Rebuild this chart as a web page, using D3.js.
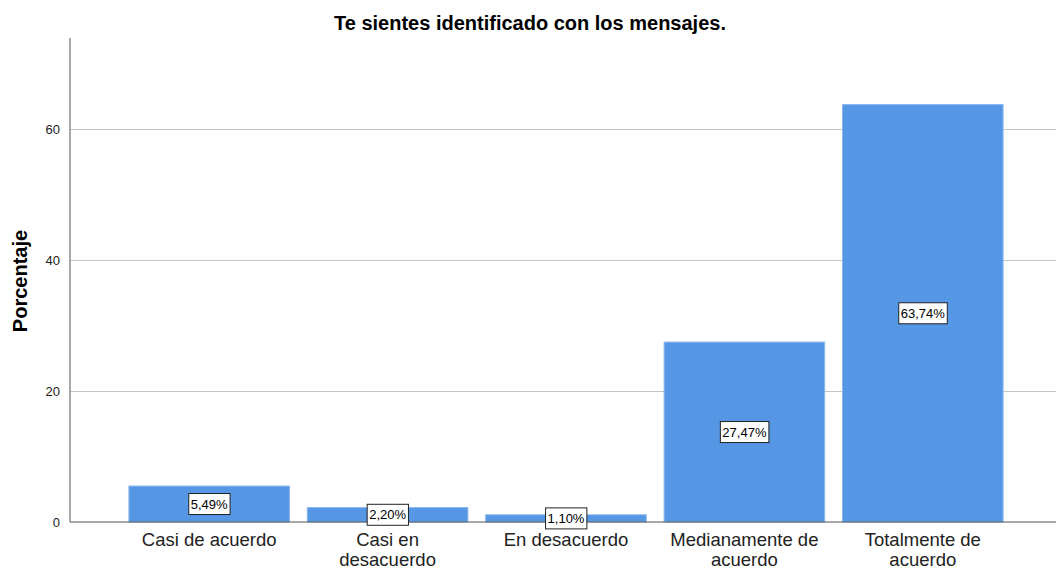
<!DOCTYPE html>
<html><head><meta charset="utf-8">
<script src="https://cdn.jsdelivr.net/npm/d3@7"></script>
<style>body{margin:0;background:#fff}svg{display:block}text{font-family:Arial,"Liberation Sans",sans-serif}</style>
</head><body>
<svg id="c" width="1056" height="571"></svg>
<script>
const categories = [["Casi de acuerdo"],["Casi en","desacuerdo"],["En desacuerdo"],["Medianamente de","acuerdo"],["Totalmente de","acuerdo"]];
const values = [5.49, 2.20, 1.10, 27.47, 63.74];
const labels = ["5,49%","2,20%","1,10%","27,47%","63,74%"];
const yTicks = [0, 20, 40, 60];
const title = "Te sientes identificado con los mensajes.";
const yTitle = "Porcentaje";

const svg = d3.select("#c");
const x0 = 70, x1 = 1056, yTop = 38, yBase = 522;
const keys = categories.map(c => c.join(" "));
const x = d3.scaleBand().domain(keys).range([120, 1012]).paddingInner(0.1).paddingOuter(0.05);
const y = d3.scaleLinear().domain([0, 73.9]).range([yBase, yTop]);

// gridlines
svg.append("g").selectAll("line").data(yTicks.filter(t => t > 0)).join("line")
  .attr("x1", x0).attr("x2", x1).attr("y1", d => y(d)).attr("y2", d => y(d))
  .attr("stroke", "#c4c4c4").attr("stroke-width", 1).attr("shape-rendering","crispEdges");

// y axis
const ya = svg.append("g").attr("transform", `translate(${x0},0)`).call(d3.axisLeft(y).tickValues(yTicks).tickSize(0).tickPadding(10));
ya.select(".domain").remove();
ya.selectAll("text").attr("font-size", 13).attr("fill", "#222").attr("font-family","Arial");
svg.append("line").attr("x1", x0).attr("x2", x0).attr("y1", yTop).attr("y2", yBase)
  .attr("stroke", "#8c8c8c").attr("stroke-width", 1.5);

// bars
svg.append("g").selectAll("rect").data(values).join("rect")
  .attr("x", (d, i) => x(keys[i])).attr("width", x.bandwidth())
  .attr("y", d => y(d)).attr("height", d => yBase - y(d))
  .attr("fill", "#5596E5").attr("stroke", "#8ab6ee").attr("stroke-width", 1);

// x axis line
svg.append("line").attr("x1", x0).attr("x2", x1).attr("y1", yBase).attr("y2", yBase)
  .attr("stroke", "#555").attr("stroke-width", 1.2);

// value labels
const lg = svg.append("g").selectAll("g").data(values).join("g")
  .attr("transform", (d, i) => `translate(${x(keys[i]) + x.bandwidth()/2},${(y(d) + yBase)/2})`);
lg.append("text").text((d, i) => labels[i]).attr("text-anchor", "middle").attr("dy", "0.36em")
  .attr("font-size", 13).attr("fill", "#000");
lg.each(function() {
  const g = d3.select(this); const b = g.select("text").node().getBBox();
  g.insert("rect", "text").attr("x", b.x - 2).attr("y", -10.5).attr("width", b.width + 4).attr("height", 21)
    .attr("fill", "#fff").attr("stroke", "#222").attr("stroke-width", 1);
});

// category labels
const cg = svg.append("g").selectAll("text").data(categories).join("text")
  .attr("x", (d, i) => x(keys[i]) + x.bandwidth()/2).attr("y", 546)
  .attr("text-anchor", "middle").attr("font-size", 18.5).attr("fill", "#222");
cg.selectAll("tspan").data(d => d).join("tspan")
  .attr("x", function() { return d3.select(this.parentNode).attr("x"); })
  .attr("dy", (d, i) => i === 0 ? 0 : 20).text(d => d);

// title
svg.append("text").text(title).attr("x", 530).attr("y", 30).attr("text-anchor", "middle")
  .attr("font-size", 20).attr("font-weight", "bold").attr("fill", "#000");
svg.append("text").text(yTitle).attr("transform", `translate(27,${(yTop + yBase)/2 + 1}) rotate(-90)`)
  .attr("text-anchor", "middle").attr("font-size", 20).attr("font-weight", "bold").attr("fill", "#000");
</script>
</body></html>
